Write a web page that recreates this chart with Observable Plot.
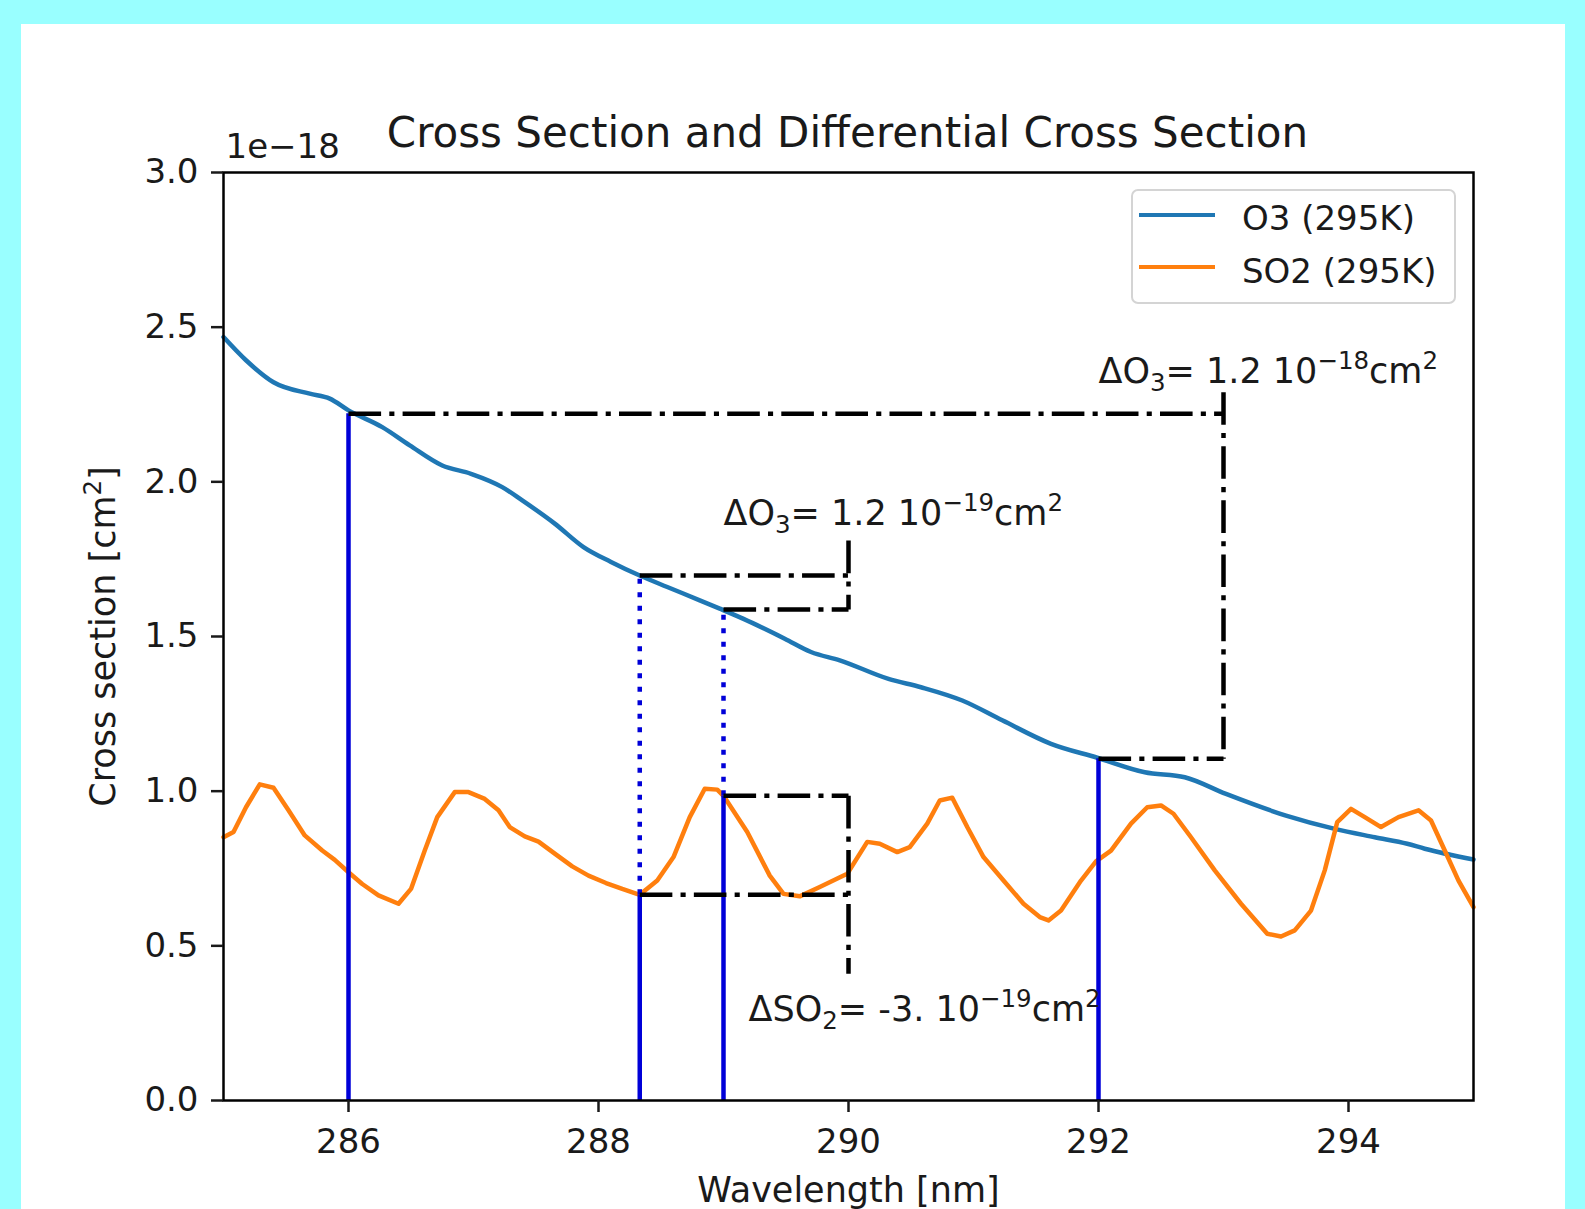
<!DOCTYPE html>
<html>
<head>
<meta charset="utf-8">
<script src="https://cdn.jsdelivr.net/npm/d3@7"></script>
<script src="https://cdn.jsdelivr.net/npm/@observablehq/plot@0.6"></script>
<style>
  html, body { margin:0; padding:0; }
  body { width:1585px; height:1209px; background:#99ffff; position:relative; overflow:hidden; font-family:"DejaVu Sans", sans-serif; color:#1a1a1a; }
  #panel { position:absolute; left:21px; top:24px; width:1544px; height:1185px; background:#ffffff; }
  #chart { position:absolute; left:0; top:0; }
  #title { position:absolute; left:826.5px; top:88px; transform:translateX(-50%); font-size:42px; line-height:42px; white-space:nowrap; }
  #legend { position:absolute; left:1110px; top:165px; width:321px; height:111px; border:2px solid #d4d4d4; border-radius:7px; background:rgba(255,255,255,0.8); }
  .lg-line { position:absolute; height:4.5px; width:76px; }
  .lg-text { position:absolute; font-size:34px; line-height:34px; white-space:nowrap; }
</style>
</head>
<body>
<div id="panel">
  <div id="chart"></div>
  <div id="title"></div>
  <div id="legend"></div>
</div>
<script>
// ---- data (cross sections in units of 1e-18 cm^2) ----
const titleText = "Cross Section and Differential Cross Section";
const xLabel = "Wavelength [nm]";
const yLabel = "Cross section [cm²]";
const offsetText = "1e\u221218";
const xTicks = [286, 288, 290, 292, 294];
const yTicks = [0, 0.5, 1.0, 1.5, 2.0, 2.5, 3.0];
const seriesNames = ["O3 (295K)", "SO2 (295K)"];
const seriesColors = ["#1f77b4", "#ff7f0e"];

const o3Wavelength = [285.0, 285.18, 285.40, 285.69, 285.85, 286.0, 286.27, 286.49, 286.75, 286.98, 287.23, 287.39, 287.65, 287.88, 288.10, 288.33, 288.55, 288.81, 288.97, 289.16, 289.49, 289.70, 289.93, 290.32, 290.58, 290.91, 291.23, 291.62, 291.99, 292.37, 292.69, 293.02, 293.50, 293.89, 294.21, 294.47, 294.61, 295.0];
const o3Values = [2.468, 2.393, 2.322, 2.285, 2.269, 2.231, 2.177, 2.118, 2.053, 2.026, 1.983, 1.94, 1.865, 1.789, 1.741, 1.697, 1.66, 1.617, 1.59, 1.557, 1.493, 1.45, 1.423, 1.363, 1.336, 1.293, 1.229, 1.153, 1.108, 1.061, 1.045, 0.991, 0.921, 0.878, 0.851, 0.830, 0.814, 0.779];

const so2Wavelength = [285.0, 285.08, 285.18, 285.29, 285.40, 285.52, 285.65, 285.79, 285.89, 286.0, 286.11, 286.24, 286.40, 286.50, 286.61, 286.71, 286.85, 286.96, 287.09, 287.20, 287.29, 287.41, 287.52, 287.65, 287.79, 287.92, 288.06, 288.19, 288.33, 288.47, 288.60, 288.73, 288.85, 288.95, 289.0, 289.19, 289.37, 289.48, 289.61, 289.77, 289.99, 290.15, 290.25, 290.39, 290.49, 290.63, 290.73, 290.83, 290.95, 291.08, 291.24, 291.40, 291.53, 291.60, 291.70, 291.86, 291.98, 292.10, 292.26, 292.39, 292.50, 292.60, 292.74, 292.93, 293.14, 293.35, 293.46, 293.57, 293.70, 293.81, 293.91, 294.02, 294.13, 294.26, 294.40, 294.56, 294.66, 294.77, 294.88, 295.0];
const so2Values = [0.851, 0.868, 0.948, 1.022, 1.011, 0.938, 0.857, 0.808, 0.778, 0.738, 0.70, 0.663, 0.636, 0.684, 0.808, 0.916, 0.997, 0.997, 0.975, 0.938, 0.884, 0.854, 0.837, 0.798, 0.757, 0.727, 0.703, 0.684, 0.665, 0.711, 0.787, 0.916, 1.008, 1.005, 0.985, 0.868, 0.727, 0.668, 0.66, 0.69, 0.733, 0.836, 0.830, 0.803, 0.819, 0.895, 0.97, 0.979, 0.884, 0.787, 0.711, 0.636, 0.593, 0.582, 0.614, 0.711, 0.773, 0.808, 0.895, 0.948, 0.954, 0.927, 0.851, 0.744, 0.636, 0.539, 0.53, 0.55, 0.614, 0.744, 0.90, 0.943, 0.916, 0.884, 0.916, 0.938, 0.905, 0.808, 0.711, 0.625];

// vertical marker lines (solid from the axis, dotted continuation)
const solidX = [286, 292, 288.33, 289.0];
const solidTop = [2.22, 1.105, 0.665, 0.985];
const dottedX = [288.33, 289.0];
const dottedFrom = [0.665, 0.985];
const dottedTo = [1.697, 1.587];

// dash-dot difference brackets
const ddX1 = [286, 293, 292, 288.33, 289, 290, 289, 288.33, 290];
const ddY1 = [2.22, 2.29, 1.105, 1.697, 1.587, 1.81, 0.985, 0.665, 0.985];
const ddX2 = [293, 293, 293, 290, 290, 290, 290, 290, 290];
const ddY2 = [2.22, 1.105, 1.105, 1.697, 1.587, 1.587, 0.985, 0.665, 0.41];

// annotations
const annoText = ["ΔO₃= 1.2 10⁻¹⁸cm²", "ΔO₃= 1.2 10⁻¹⁹cm²", "ΔSO₂= -3. 10⁻¹⁹cm²"];
const annoX = [292, 289, 289.2];
const annoY = [2.32, 1.86, 0.256];

// ---- build tables ----
const o3Data = o3Wavelength.map((w, i) => ({w, v: o3Values[i]}));
const so2Data = so2Wavelength.map((w, i) => ({w, v: so2Values[i]}));
const solidData = solidX.map((x, i) => ({x, y1: 0, y2: solidTop[i]}));
const dottedData = dottedX.map((x, i) => ({x, y1: dottedFrom[i], y2: dottedTo[i]}));
const ddData = ddX1.map((x1, i) => ({x1, y1: ddY1[i], x2: ddX2[i], y2: ddY2[i]}));
const annoData = annoText.map((t, i) => ({t, x: annoX[i], y: annoY[i]}));

const FS = 34;
const FA = 35;
const chart = Plot.plot({
  width: 1544,
  height: 1185,
  marginLeft: 202,
  marginRight: 92,
  marginTop: 148,
  marginBottom: 109,
  x: {domain: [285, 295]},
  y: {domain: [0, 3]},
  style: {fontFamily: "DejaVu Sans", fontSize: FS + "px", background: "transparent", color: "#1a1a1a", overflow: "visible"},
  marks: [
    Plot.line(o3Data, {x: "w", y: "v", stroke: seriesColors[0], strokeWidth: 4.5, curve: "monotone-x"}),
    Plot.line(so2Data, {x: "w", y: "v", stroke: seriesColors[1], strokeWidth: 4.5}),
    Plot.ruleX(solidData, {x: "x", y1: "y1", y2: "y2", stroke: "#0000d8", strokeWidth: 4.5}),
    Plot.ruleX(dottedData, {x: "x", y1: "y1", y2: "y2", stroke: "#0000d8", strokeWidth: 4.5, strokeDasharray: "5,8.5"}),
    Plot.link(ddData, {x1: "x1", y1: "y1", x2: "x2", y2: "y2", stroke: "#000", strokeWidth: 4.5, strokeDasharray: "32.6,8.2,5.1,8.2"}),
    Plot.frame({stroke: "#000", strokeWidth: 2.5}),
    Plot.axisX({ticks: xTicks, tickFormat: d => String(d), tickSize: 12, tickPadding: 16, fontSize: FS, strokeWidth: 2.5, label: null}),
    Plot.axisY({ticks: yTicks, tickFormat: d3.format(".1f"), tickSize: 12, tickPadding: 13, fontSize: FS, strokeWidth: 2.5, label: null}),
    Plot.text(annoData, {x: "x", y: "y", text: "t", textAnchor: "start", lineAnchor: "bottom", fontSize: FA, fill: "#1a1a1a", className: "rich"}),
    Plot.text([yLabel], {text: d => d, frameAnchor: "left", dx: -109, rotate: -90, textAnchor: "middle", lineAnchor: "bottom", fontSize: 35, fill: "#1a1a1a", className: "rich"}),
    Plot.text([xLabel], {text: d => d, frameAnchor: "bottom", dy: 101, textAnchor: "middle", lineAnchor: "bottom", fontSize: 35, fill: "#1a1a1a"}),
    Plot.text([offsetText], {text: d => d, frameAnchor: "top-left", dx: 2, dy: -15, textAnchor: "start", lineAnchor: "bottom", fontSize: FS, fill: "#1a1a1a"})
  ]
});
document.getElementById("chart").appendChild(chart);

// mathtext-like sub/superscripts
const subMap = {"₀":"0","₁":"1","₂":"2","₃":"3","₄":"4","₅":"5","₆":"6","₇":"7","₈":"8","₉":"9"};
const supMap = {"⁰":"0","¹":"1","²":"2","³":"3","⁴":"4","⁵":"5","⁶":"6","⁷":"7","⁸":"8","⁹":"9","⁻":"\u2212"};
function richify(el) {
  const fs = parseFloat(el.getAttribute("font-size") || el.parentNode.getAttribute("font-size") || FS);
  const s = el.textContent;
  const runs = [];
  for (const ch of s) {
    const mode = ch in subMap ? "sub" : ch in supMap ? "sup" : "norm";
    const c = mode === "sub" ? subMap[ch] : mode === "sup" ? supMap[ch] : ch;
    if (runs.length && runs[runs.length - 1].mode === mode) runs[runs.length - 1].text += c;
    else runs.push({mode, text: c});
  }
  el.textContent = "";
  let cur = 0;
  for (const r of runs) {
    const target = r.mode === "sub" ? 0.22 * fs : r.mode === "sup" ? -0.40 * fs : 0;
    const t = document.createElementNS("http://www.w3.org/2000/svg", "tspan");
    if (target - cur !== 0) t.setAttribute("dy", (target - cur).toFixed(2));
    cur = target;
    if (r.mode !== "norm") t.setAttribute("font-size", (0.7 * fs).toFixed(1));
    t.textContent = r.text;
    el.appendChild(t);
  }
}
chart.querySelectorAll("g.rich text").forEach(el => richify(el));

// title
document.getElementById("title").textContent = titleText;

// legend
const legend = document.getElementById("legend");
seriesNames.forEach((name, i) => {
  const line = document.createElement("div");
  line.className = "lg-line";
  line.style.left = "6px";
  line.style.top = (21.75 + i * 52) + "px";
  line.style.background = seriesColors[i];
  legend.appendChild(line);
  const txt = document.createElement("div");
  txt.className = "lg-text";
  txt.style.left = "109px";
  txt.style.top = (10.2 + i * 53) + "px";
  txt.textContent = name;
  legend.appendChild(txt);
});
</script>
</body>
</html>
